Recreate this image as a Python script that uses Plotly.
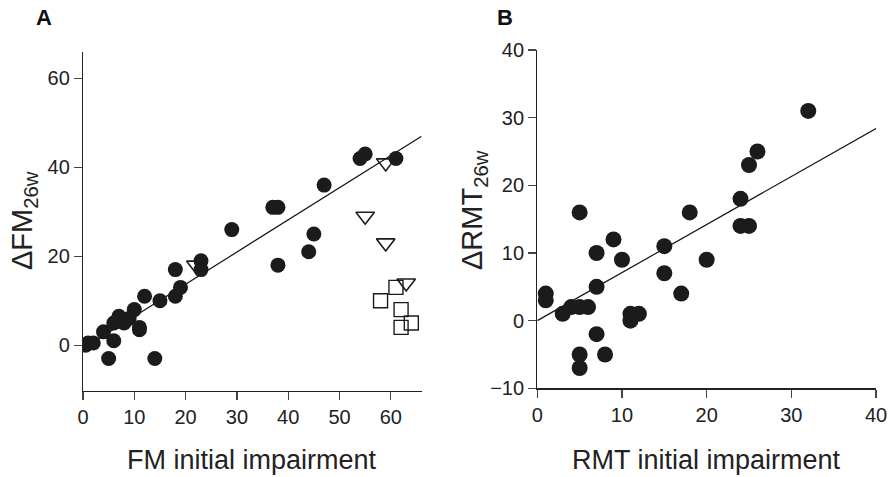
import plotly.graph_objects as go

# ---------------- Panel A data ----------------
a_fill_x = [0.5, 1.0, 2.0, 4.0, 5.0, 6.0, 6.0, 7.0, 7.0, 8.0, 9.0, 10.0, 11.0, 11.0, 12.0, 14.0, 15.0,
            18.0, 18.0, 19.0, 23.0, 23.0, 29.0, 37.0, 38.0, 38.0, 44.0, 45.0, 47.0, 54.0, 55.0, 61.0]
a_fill_y = [0.0, 0.5, 0.5, 3.0, -3.0, 1.0, 5.0, 6.5, 6.0, 5.0, 6.0, 8.0, 3.5, 4.0, 11.0, -3.0, 10.0,
            11.0, 17.0, 13.0, 19.0, 17.0, 26.0, 31.0, 31.0, 18.0, 21.0, 25.0, 36.0, 42.0, 43.0, 42.0]
a_tri_x = [22.0, 55.0, 59.0, 59.0, 63.0]
a_tri_y = [18.0, 29.0, 41.0, 23.0, 14.0]
a_sq_x = [58.0, 61.0, 62.0, 64.0, 62.0]
a_sq_y = [10.0, 13.0, 8.0, 5.0, 4.0]
a_fit_x = [0.5, 66.0]
a_fit_y = [-0.4, 47.0]

# ---------------- Panel B data ----------------
b_x = [1, 1, 3, 4, 5, 6, 5, 7, 7, 9, 10, 7, 5, 5, 8, 11, 11, 12, 15, 15, 17, 18, 20, 24, 24, 25, 25, 26, 32]
b_y = [4, 3, 1, 2, 2, 2, 16, 5, 10, 12, 9, -2, -5, -7, -5, 0, 1, 1, 11, 7, 4, 16, 9, 18, 14, 14, 23, 25, 31]
b_fit_x = [0, 40]
b_fit_y = [0, 28.4]

a_xticks = [0, 10, 20, 30, 40, 50, 60]
a_yticks = [0, 20, 40, 60]
b_xticks = [0, 10, 20, 30, 40]
b_yticks = [-10, 0, 10, 20, 30, 40]

INK = "#1b1b1b"
FONT = "Liberation Sans, Arial, sans-serif"
W, H = 893, 477

fig = go.Figure()

line_style = dict(color="#111111", width=1.2)
fig.add_trace(go.Scatter(x=a_fit_x, y=a_fit_y, mode="lines", line=line_style,
                         xaxis="x", yaxis="y", showlegend=False, hoverinfo="skip"))
fig.add_trace(go.Scatter(x=a_fill_x, y=a_fill_y, mode="markers",
                         marker=dict(symbol="circle", size=15, color=INK, line=dict(width=0)),
                         xaxis="x", yaxis="y", showlegend=False))
fig.add_trace(go.Scatter(x=a_tri_x, y=a_tri_y, mode="markers",
                         marker=dict(symbol="triangle-down-open", size=16, color=INK, line=dict(width=1.6)),
                         xaxis="x", yaxis="y", showlegend=False))
fig.add_trace(go.Scatter(x=a_sq_x, y=a_sq_y, mode="markers",
                         marker=dict(symbol="square-open", size=14, color=INK, line=dict(width=1.4)),
                         xaxis="x", yaxis="y", showlegend=False))

fig.add_trace(go.Scatter(x=b_fit_x, y=b_fit_y, mode="lines", line=line_style,
                         xaxis="x2", yaxis="y2", showlegend=False, hoverinfo="skip"))
fig.add_trace(go.Scatter(x=b_x, y=b_y, mode="markers",
                         marker=dict(symbol="circle", size=16, color=INK, line=dict(width=0)),
                         xaxis="x2", yaxis="y2", showlegend=False))

def px_x(p):
    return p / W

def px_y(p):
    return 1 - p / H

axis_common = dict(showline=True, linecolor="#222222", linewidth=1.2, ticks="outside",
                   ticklen=8, tickwidth=1.2, tickcolor="#444444", showgrid=False, zeroline=False,
                   tickfont=dict(family=FONT, size=20, color="#222222"), mirror=False)

fig.update_layout(
    width=W, height=H,
    margin=dict(l=0, r=0, t=0, b=0, autoexpand=False),
    paper_bgcolor="white", plot_bgcolor="white",
    showlegend=False,
    font=dict(family=FONT, color="#222222"),
    xaxis=dict(domain=[px_x(83), px_x(421.6)], range=[0, 66], tickvals=a_xticks,
               anchor="y", **axis_common),
    yaxis=dict(domain=[px_y(391), px_y(51.7)], range=[-10.3, 66], tickvals=a_yticks,
               anchor="x", **axis_common),
    xaxis2=dict(domain=[px_x(537.3), px_x(876)], range=[0, 40], tickvals=b_xticks,
                anchor="y2", **axis_common),
    yaxis2=dict(domain=[px_y(388.3), px_y(50)], range=[-10, 40], tickvals=b_yticks,
                anchor="x2", **axis_common),
)

ann = []
ann.append(dict(text="FM initial impairment", x=px_x(252), y=px_y(460), xref="paper", yref="paper",
                showarrow=False, font=dict(family=FONT, size=27, color="#222222"),
                xanchor="center", yanchor="middle"))
ann.append(dict(text="RMT initial impairment", x=px_x(706), y=px_y(460), xref="paper", yref="paper",
                showarrow=False, font=dict(family=FONT, size=27, color="#222222"),
                xanchor="center", yanchor="middle"))
ann.append(dict(text="ΔFM<sub>26w</sub>", x=px_x(24), y=px_y(221), xref="paper", yref="paper",
                showarrow=False, textangle=-90, font=dict(family=FONT, size=29, color="#222222"),
                xanchor="center", yanchor="middle"))
ann.append(dict(text="ΔRMT<sub>26w</sub>", x=px_x(474), y=px_y(210), xref="paper", yref="paper",
                showarrow=False, textangle=-90, font=dict(family=FONT, size=29, color="#222222"),
                xanchor="center", yanchor="middle"))
ann.append(dict(text="<b>A</b>", x=px_x(44), y=px_y(18), xref="paper", yref="paper",
                showarrow=False, font=dict(family=FONT, size=22, color="#111111"),
                xanchor="center", yanchor="middle"))
ann.append(dict(text="<b>B</b>", x=px_x(505), y=px_y(18), xref="paper", yref="paper",
                showarrow=False, font=dict(family=FONT, size=22, color="#111111"),
                xanchor="center", yanchor="middle"))
fig.update_layout(annotations=ann)

fig.write_html("out.html",
               config={"displayModeBar": False, "staticPlot": True},
               post_script="document.body.style.margin='0px';document.body.style.padding='0px';")
